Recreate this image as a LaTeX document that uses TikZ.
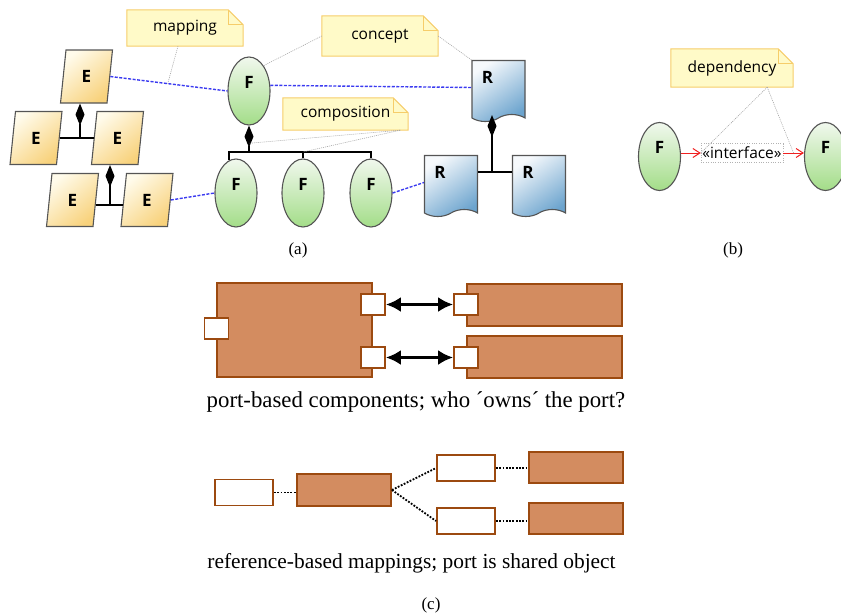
\documentclass[tikz,border=0pt]{standalone}
\usepackage{fontspec}
\setmainfont{Liberation Serif}
\newfontfamily\uifont{Open Sans}
\usetikzlibrary{shapes.geometric,shapes.symbols,arrows.meta,backgrounds,calc}

\definecolor{notefill}{HTML}{FFFAC8}
\definecolor{noteline}{HTML}{F6CD6A}
\definecolor{eone}{HTML}{FFFBEB}
\definecolor{etwo}{HTML}{F8D27C}
\definecolor{fone}{HTML}{F1F8EE}
\definecolor{ftwo}{HTML}{A3DD88}
\definecolor{rone}{HTML}{F6F9FC}
\definecolor{rtwo}{HTML}{6CA4CE}
\definecolor{outline}{HTML}{555555}
\definecolor{mapblue}{HTML}{3A3AF0}
\definecolor{depred}{HTML}{F02020}
\definecolor{compfill}{HTML}{D38C60}
\definecolor{compline}{HTML}{9C4A10}

% paper with a folded corner, put behind a note node
\newcommand{\notepaper}[1]{%
  \begin{scope}[on background layer]
    \filldraw[paper] (#1.south west) -- (#1.north west) -- ([xshift=-15pt]#1.north east)
      -- ([yshift=-15pt]#1.north east) -- (#1.south east) -- cycle;
    \draw[paper, fill=none] ([xshift=-15pt]#1.north east) |- ([yshift=-15pt]#1.north east);
  \end{scope}}

\begin{document}
\begin{tikzpicture}[x=1pt, y=-1pt,
    ui/.style={font=\uifont\fontsize{15.5}{18}\selectfont},
    uibold/.style={font=\uifont\bfseries\fontsize{17}{20}\selectfont},
    note/.style={ui, inner sep=0pt},
    paper/.style={fill=notefill, draw=noteline, line width=1pt},
    enode/.style={trapezium, trapezium left angle=84, trapezium right angle=96,
        trapezium stretches=true, minimum width=52pt, minimum height=53pt, inner sep=0pt,
        draw=outline, line width=1.1pt, top color=eone, bottom color=etwo, shading angle=40, uibold},
    fnode/.style={ellipse, minimum width=42pt, minimum height=68pt, inner sep=0pt,
        draw=outline, line width=1.1pt, top color=fone, bottom color=ftwo},
    rnode/.style={tape, tape bend top=none, tape bend bottom=in and out, tape bend height=7pt,
        minimum width=53pt, minimum height=61pt, inner sep=0pt,
        draw=outline, line width=1.1pt, top color=rone, bottom color=rtwo, shading angle=35},
    flabel/.style={uibold, yshift=9pt},
    rlabel/.style={uibold, anchor=center, xshift=16pt, yshift=-17pt},
    tree/.style={line width=1.3pt},
    comp/.style={tree, -{Diamond[length=22pt,width=9pt]}},
    map/.style={mapblue, line width=1.4pt, dash pattern=on 3pt off 1.5pt},
    notelink/.style={gray!70, line width=0.6pt, dash pattern=on 1pt off 1pt},
    iface/.style={ui, draw=gray!60, dotted, fill=white, minimum width=82pt, minimum height=19pt, inner sep=1pt},
    dep/.style={depred, line width=1pt, -{Straight Barb[length=7pt,width=9pt]}},
    block/.style={draw=compline, fill=compfill, line width=1.9pt, inner sep=0pt},
    port/.style={draw=compline, fill=white, line width=1.9pt, minimum width=24pt, minimum height=21pt, inner sep=0pt},
    slot/.style={port, minimum width=58pt, minimum height=26pt},
    link/.style={line width=2.6pt, {Latex[length=15pt,width=15pt]}-{Latex[length=15pt,width=15pt]}},
    ref/.style={line width=1.8pt, dash pattern=on 1.8pt off 1.5pt},
    tag/.style={font=\fontsize{17}{20}\selectfont},
    caption/.style={font=\fontsize{#1}{26}\selectfont}]
    \useasboundingbox (0,0) rectangle (841,616);

    % (a) entities
    \node[enode] (e1) at (86.5,76.5) {E};
    \node[enode] (e2) at (36,138) {E};
    \node[enode] (e3) at (117.5,138) {E};
    \node[enode] (e4) at (72.5,200) {E};
    \node[enode] (e5) at (147,200) {E};
    \coordinate (ej1) at (80,138);
    \coordinate (ej2) at (110,205);
    \draw[tree] (e2.east) -- (e3.west);
    \draw[comp] (ej1) -- (ej1 |- e1.south);
    \draw[tree] (e4.east |- ej2) -- (e5.west |- ej2);
    \draw[comp] (ej2) -- (ej2 |- e3.south);

    % functions
    \node[fnode, label={[flabel]center:F}] (f1) at (249,91) {};
    \node[fnode, label={[flabel]center:F}] (f2) at (236,193) {};
    \node[fnode, label={[flabel]center:F}] (f3) at (303,193) {};
    \node[fnode, label={[flabel]center:F}] (f4) at (371,193) {};
    \coordinate (fj) at (249,152);
    \draw[tree] (f2.102) |- (fj) -| (f4.north);
    \draw[tree] (f3.north) -- (f3.north |- fj);
    \draw[comp] (fj) -- (f1.south);

    % resources
    \node[rnode, label={[rlabel]north west:R}] (r1) at (498.5,87.5) {};
    \node[rnode, label={[rlabel]north west:R}] (r2) at (451,182.5) {};
    \node[rnode, label={[rlabel]north west:R}] (r3) at (539,182.5) {};
    \coordinate (rj) at (492,172);
    \draw[tree] (r2.east |- rj) -- (r3.west |- rj);
    \draw[comp] (rj) -- (rj |- r1.south);

    \draw[map] (e1.east) -- (f1.west);
    \draw[map] (f1.15) -- (r1.west);
    \draw[map] (e5.east) -- (f2.west);
    \draw[map] (f4.east) -- (r2.west);

    % notes
    \node[note, minimum width=116pt, minimum height=36pt] (mapping) at (185,28) {mapping};
    \node[note, minimum width=116pt, minimum height=40pt] (concept) at (380,36) {concept};
    \node[note, minimum width=125pt, minimum height=32pt] (composition) at (345.5,114) {composition};
    \notepaper{mapping}
    \notepaper{concept}
    \notepaper{composition}
    \coordinate (mapmid) at ($(e1.east)!0.49!(f1.west)$);
    \coordinate (fdiam) at ($(fj)!0.33!(f1.south)$);
    \draw[notelink] ([xshift=-7pt]mapping.south) -- (mapmid);
    \draw[notelink] (concept.west) -- (f1.60);
    \draw[notelink] (concept.east) -- (r1.north west);
    \draw[notelink] ([xshift=-8pt]composition.south east) -- (fdiam);
    \draw[notelink] ([xshift=-8pt]composition.south east) -- (f3.north |- fj);

    % (b)
    \node[fnode, label={[flabel]center:F}] (fl) at (659.5,156.5) {};
    \node[fnode, label={[flabel]center:F}] (fr) at (825.5,156.5) {};
    \node[iface] (iface) at (742,153) {«interface»};
    \draw[dep] (fl.east |- iface.west) -- (iface.west);
    \draw[dep] (iface.east) -- (fr.west |- iface.east);
    \node[note, minimum width=122pt, minimum height=38pt] (dependency) at (732,68) {dependency};
    \notepaper{dependency}
    \coordinate (depmid) at ($(iface.east)!0.5!(fr.west |- iface.east)$);
    \draw[notelink] ([xshift=-26pt]dependency.south east) -- (iface.west);
    \draw[notelink] ([xshift=-26pt]dependency.south east) -- (depmid);

    \node[tag] (taga) at (298,250) {(a)};
    \node[tag] (tagb) at (733,250) {(b)};

    % (c) ports
    \node[block, minimum width=155pt, minimum height=94pt] (owner) at (294.5,330) {};
    \node[port] (pin) at (216.5,328.5) {};
    \node[port] (pout1) at (373,304.5) {};
    \node[port] (pout2) at (373,357.5) {};
    \node[block, minimum width=155pt, minimum height=42pt] (peer1) at (544.5,305) {};
    \node[block, minimum width=155pt, minimum height=42pt] (peer2) at (544.5,357) {};
    \node[port] (pin1) at (466,304.5) {};
    \node[port] (pin2) at (466,357.5) {};
    \draw[link] (pout1) -- (pin1);
    \draw[link] (pout2) -- (pin2);
    \node[caption=22.8] (portcap) at (416,402) {port-based components; who ´owns´ the port?};

    % (c) references
    \node[slot] (w1) at (244,492.5) {};
    \node[block, minimum width=94pt, minimum height=32pt] (b1) at (344,490) {};
    \node[slot] (w2) at (466,468) {};
    \node[slot] (w3) at (466,521) {};
    \node[block, minimum width=94pt, minimum height=31pt] (b2) at (576,467.5) {};
    \node[block, minimum width=94pt, minimum height=31pt] (b3) at (576,518.5) {};
    \draw[ref] (w1.east) -- (b1.west |- w1.east);
    \draw[ref] (b1.east) -- (w2.west);
    \draw[ref] (b1.east) -- (w3.west);
    \draw[ref] (w2.east) -- (b2.west |- w2.east);
    \draw[ref] (w3.east) -- (b3.west |- w3.east);
    \node[caption=21.4] (refcap) at (411.5,563) {reference-based mappings; port is shared object};
    \node[tag] (tagc) at (431,605) {(c)};
\end{tikzpicture}
\end{document}
